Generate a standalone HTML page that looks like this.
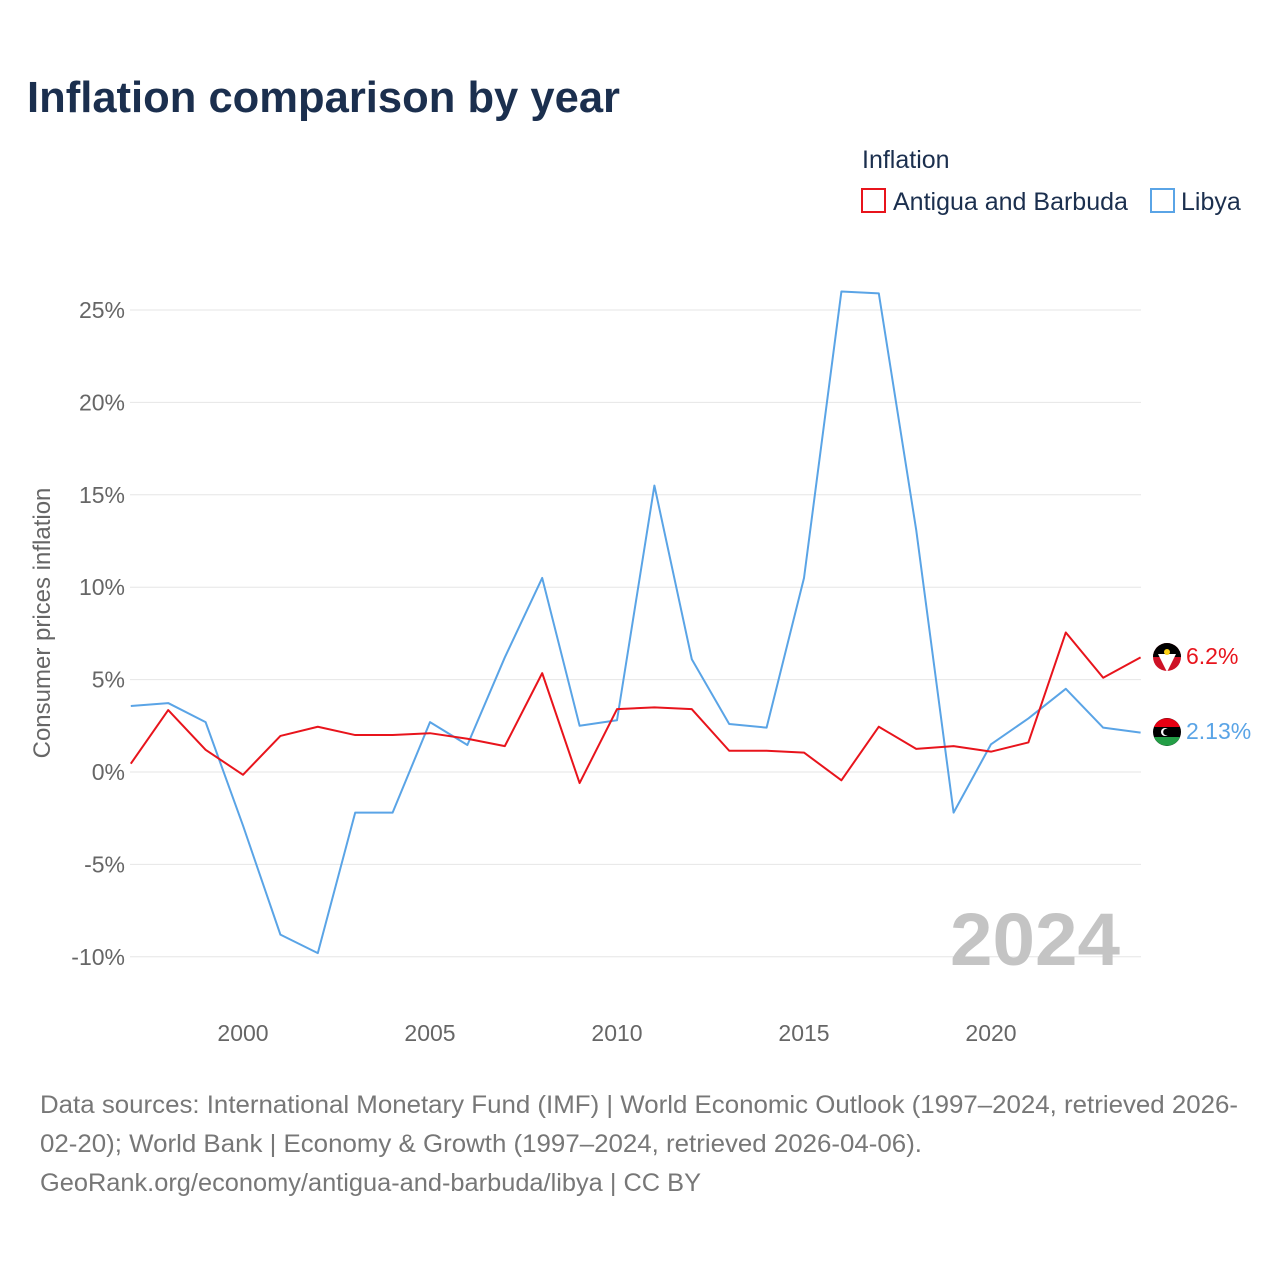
<!DOCTYPE html>
<html><head><meta charset="utf-8"><style>
body{margin:0;background:#fff;font-family:"Liberation Sans",sans-serif;}
</style></head><body>
<svg width="1280" height="1280" viewBox="0 0 1280 1280" xmlns="http://www.w3.org/2000/svg">
<rect width="1280" height="1280" fill="#fff"/>
<text x="27" y="112" font-size="44" font-weight="bold" fill="#1b2f4e" textLength="593" lengthAdjust="spacingAndGlyphs">Inflation comparison by year</text>
<g>
<text x="862" y="168" font-size="25" fill="#1b2f4e">Inflation</text>
<rect x="862" y="189" width="23" height="23" fill="none" stroke="#e8141c" stroke-width="2"/>
<text x="893" y="210" font-size="25" fill="#1b2f4e">Antigua and Barbuda</text>
<rect x="1151" y="189" width="23" height="23" fill="none" stroke="#5aa4e6" stroke-width="2"/>
<text x="1181" y="210" font-size="25" fill="#1b2f4e">Libya</text>
</g>
<g id="grid"></g>
<text x="950" y="965" font-size="74" font-weight="bold" fill="#c4c4c4" textLength="170" lengthAdjust="spacingAndGlyphs">2024</text>
<text transform="translate(50,623) rotate(-90)" text-anchor="middle" font-size="24" fill="#666">Consumer prices inflation</text>
<g id="series"></g>
<g>
<circle cx="1167" cy="657" r="14" fill="#ce1126"/>
<path d="M1153,657 a14,14 0 0 1 28,0 z" fill="#000"/>
<path d="M1158,654 L1176,654 L1167,672 Z" fill="#fff"/>
<circle cx="1167" cy="652" r="3" fill="#fcd116"/>
<text x="1186" y="664" font-size="23" fill="#e8141c">6.2%</text>
</g>
<g>
<circle cx="1167" cy="732" r="14" fill="#000"/>
<path d="M1154,727 a14,14 0 0 1 26,0 z" fill="#e70013"/>
<path d="M1154,737 a14,14 0 0 0 26,0 z" fill="#239e46"/>
<circle cx="1165" cy="732" r="4" fill="#fff"/><circle cx="1166.5" cy="732" r="3.3" fill="#000"/>
<text x="1186" y="739" font-size="23" fill="#5aa4e6">2.13%</text>
</g>
<text x="40" y="1113" font-size="25" fill="#777" textLength="1198" lengthAdjust="spacingAndGlyphs">Data sources: International Monetary Fund (IMF) | World Economic Outlook (1997–2024, retrieved 2026-</text>
<text x="40" y="1152" font-size="25" fill="#777" textLength="882" lengthAdjust="spacingAndGlyphs">02-20); World Bank | Economy &amp; Growth (1997–2024, retrieved 2026-04-06).</text>
<text x="40" y="1191" font-size="25" fill="#777" textLength="661" lengthAdjust="spacingAndGlyphs">GeoRank.org/economy/antigua-and-barbuda/libya | CC BY</text>
</svg>
<script>
const years=[1997,1998,1999,2000,2001,2002,2003,2004,2005,2006,2007,2008,2009,2010,2011,2012,2013,2014,2015,2016,2017,2018,2019,2020,2021,2022,2023,2024];
const antigua=[0.45,3.35,1.2,-0.15,1.95,2.45,2.0,2.0,2.1,1.8,1.4,5.35,-0.6,3.4,3.5,3.4,1.15,1.15,1.05,-0.45,2.45,1.25,1.4,1.1,1.6,7.55,5.1,6.2];
const libya=[3.57,3.73,2.7,-2.9,-8.8,-9.8,-2.2,-2.2,2.7,1.46,6.2,10.5,2.5,2.8,15.5,6.1,2.6,2.4,10.5,26.0,25.9,13.1,-2.2,1.5,2.9,4.5,2.4,2.13];
const yTicks=[-10,-5,0,5,10,15,20,25];
const xTicks=[2000,2005,2010,2015,2020];
const NS="http://www.w3.org/2000/svg";
const x=v=>243+(v-2000)*37.4;
const y=v=>772-v*18.48;
const grid=document.getElementById('grid');
yTicks.forEach(t=>{
 const l=document.createElementNS(NS,'line');
 l.setAttribute('x1',130);l.setAttribute('x2',1141);l.setAttribute('y1',y(t));l.setAttribute('y2',y(t));
 l.setAttribute('stroke','#e6e6e6');l.setAttribute('stroke-width',1);
 
 
 grid.appendChild(l);
 const tx=document.createElementNS(NS,'text');
 tx.setAttribute('x',125);tx.setAttribute('y',y(t)+8);tx.setAttribute('text-anchor','end');
 tx.setAttribute('font-size','23');tx.setAttribute('fill','#666');
 tx.textContent=t+'%';
 
 
 grid.appendChild(tx);
});
xTicks.forEach(t=>{
 const tx=document.createElementNS(NS,'text');
 tx.setAttribute('x',x(t));tx.setAttribute('y',1041);tx.setAttribute('text-anchor','middle');
 tx.setAttribute('font-size','23');tx.setAttribute('fill','#666');
 tx.textContent=t;
 
 
 grid.appendChild(tx);
});
const series=document.getElementById('series');
function draw(vals,color,name){
 const p=document.createElementNS(NS,'polyline');
 p.setAttribute('points',vals.map((v,i)=>x(years[i])+','+y(v)).join(' '));
 p.setAttribute('fill','none');p.setAttribute('stroke',color);p.setAttribute('stroke-width',2);
 p.setAttribute('stroke-linejoin','round');
 
 
 series.appendChild(p);
}
draw(libya,'#5aa4e6','line-libya');
draw(antigua,'#e8141c','line-antigua');
</script>
</body></html>
